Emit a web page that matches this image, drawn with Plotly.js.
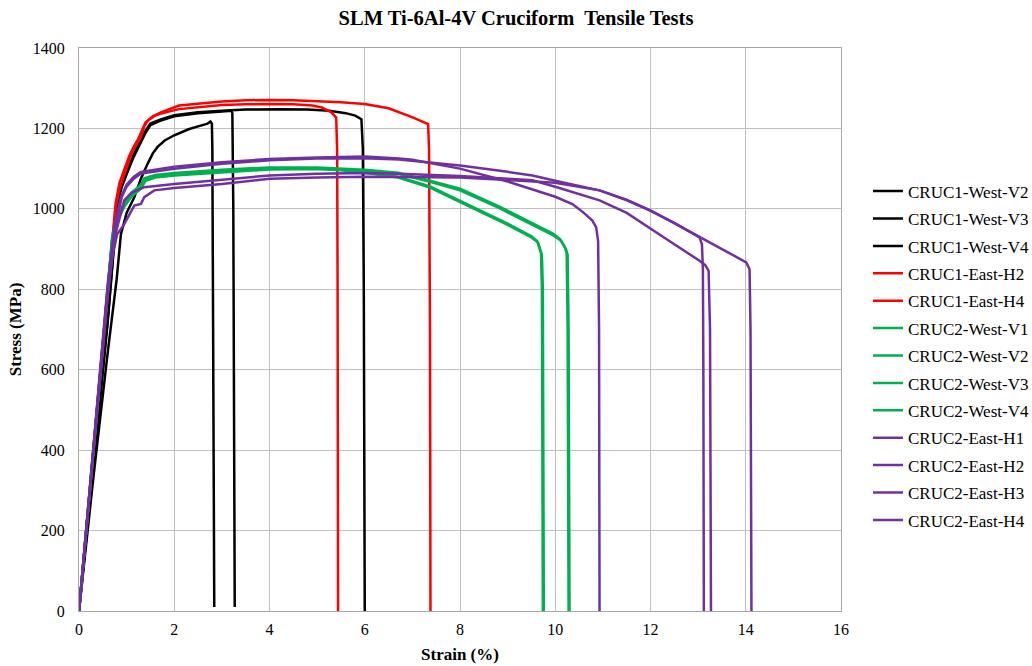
<!DOCTYPE html>
<html>
<head>
<meta charset="utf-8">
<script src="https://cdn.plot.ly/plotly-3.0.1.min.js"></script>
<style>html,body{margin:0;padding:0;background:#fff;}#chart{width:1032px;height:666px;}</style>
</head>
<body>
<div id="chart"></div>
<script>
// Series names and colours
const seriesNames = ["CRUC1-West-V2","CRUC1-West-V3","CRUC1-West-V4","CRUC1-East-H2","CRUC1-East-H4",
  "CRUC2-West-V1","CRUC2-West-V2","CRUC2-West-V3","CRUC2-West-V4",
  "CRUC2-East-H1","CRUC2-East-H2","CRUC2-East-H3","CRUC2-East-H4"];
const seriesColors = ["#000000","#000000","#000000","#FF0000","#FF0000",
  "#00B050","#00B050","#00B050","#00B050",
  "#7030A0","#7030A0","#7030A0","#7030A0"];

// Strain (%) and stress (MPa)
const c1wV2_strain = [0,0.3,0.6,0.79,0.88,1.0,1.16,1.3,1.44,1.55,1.65,1.8,2.0,2.3,2.5,2.7,2.76,2.79,2.80,2.84];
const c1wV2_stress = [0,330,640,824,937,990,1029,1075,1112,1138,1154,1170,1183,1198,1205,1212,1217,1212,1150,10];

const c1wV3_strain = [0,0.3,0.6,0.81,0.9,1.02,1.15,1.3,1.4,1.5,1.7,2.0,2.5,3.0,3.2,3.22,3.24,3.27];
const c1wV3_stress = [0,355,715,1015,1055,1092,1130,1166,1190,1208,1219,1230,1238,1242,1244,1238,1000,10];

const c1wV4_strain = [0,0.3,0.6,0.81,0.9,1.02,1.15,1.3,1.4,1.5,1.7,2.0,2.5,3.0,3.5,4.2,4.8,5.26,5.6,5.8,5.93,5.96,5.98,6.0];
const c1wV4_stress = [0,360,720,1021,1060,1096,1135,1171,1195,1212,1222,1233,1240,1244,1247,1248,1247,1244,1238,1232,1223,1150,800,0];

const c1eH2_strain = [0,0.3,0.6,0.77,0.85,0.95,1.05,1.12,1.2,1.3,1.37,1.45,1.6,1.72,2.1,2.5,3.0,3.5,4.0,4.5,4.9,5.1,5.3,5.4,5.42,5.43,5.44];
const c1eH2_stress = [0,390,790,1004,1050,1087,1120,1142,1160,1179,1205,1220,1232,1237,1248,1253,1258,1260,1261,1260,1257,1252,1240,1227,1150,800,0];

const c1eH4_strain = [0,0.3,0.6,0.77,0.85,0.95,1.05,1.15,1.25,1.32,1.4,1.55,1.72,2.1,2.5,3.0,3.5,4.0,4.5,5.0,5.5,6.0,6.5,7.02,7.2,7.33,7.35,7.37,7.38];
const c1eH4_stress = [0,395,800,1015,1065,1100,1130,1155,1175,1195,1215,1230,1240,1257,1262,1267,1270,1271,1270,1268,1265,1261,1250,1227,1218,1211,1150,700,0];

const c2wV1_strain = [0,0.3,0.6,0.7,0.8,0.95,1.1,1.3,1.37,1.6,2,3,4,5,5.5,6,6.7,7.37,8,8.5,9,9.5,9.62,9.7,9.72,9.74];
const c2wV1_stress = [0,400,800,930,975,1010,1035,1055,1072,1080,1085,1093,1100,1100,1097,1092,1080,1056,1020,993,963,932,920,890,800,0];

const c2wV2_strain = [0,0.3,0.6,0.7,0.8,0.95,1.1,1.3,1.4,1.6,2,3,4,5,5.5,6,6.7,7.37,8,8.5,9,9.5,9.64,9.72,9.74,9.76];
const c2wV2_stress = [0,395,795,925,970,1005,1030,1050,1070,1078,1083,1091,1098,1099,1096,1090,1078,1053,1017,990,960,929,916,886,800,0];

const c2wV3_strain = [0,0.3,0.6,0.7,0.8,0.95,1.1,1.3,1.37,1.6,2,3,4,5,6,6.7,7.37,8,8.84,9.5,9.96,10.1,10.2,10.24,10.26,10.28];
const c2wV3_stress = [0,400,805,935,980,1015,1040,1060,1076,1084,1089,1097,1103,1103,1097,1090,1070,1050,1005,965,938,925,905,890,700,0];

const c2wV4_strain = [0,0.3,0.6,0.7,0.8,0.95,1.1,1.3,1.4,1.6,2,3,4,5,6,6.7,7.37,8,8.84,9.5,9.96,10.12,10.22,10.26,10.28,10.30];
const c2wV4_stress = [0,398,798,928,975,1010,1036,1057,1074,1082,1087,1095,1101,1101,1095,1087,1067,1046,1001,961,934,921,901,886,700,0];

const c2eH1_strain = [0,0.3,0.6,0.75,0.88,1.0,1.15,1.3,2,3,4,5,6,6.72,7,8,9,10,10.36,10.6,10.78,10.86,10.9,10.92,10.93];
const c2eH1_stress = [0,410,810,960,1029,1060,1080,1092,1105,1116,1124,1128,1130,1125,1122,1100,1068,1030,1012,990,971,954,920,700,0];

const c2eH2_strain = [0,0.3,0.6,0.75,0.9,1.0,1.15,1.3,2,3,4,5,6,6.72,8,9,9.52,10,10.93,11.5,11.98,12.5,13.03,13.08,13.1,13.11,13.12];
const c2eH2_stress = [0,405,800,950,1030,1055,1075,1088,1100,1112,1121,1125,1126,1123,1108,1092,1083,1070,1046,1022,996,965,929,912,850,600,0];

const c2eH3_strain = [0,0.3,0.6,0.75,0.95,1.1,1.37,2,3,4,5,6,6.72,8,9,9.52,10,10.93,11.5,12,12.5,13.03,13.15,13.22,13.25,13.27];
const c2eH3_stress = [0,400,790,930,1021,1040,1054,1062,1072,1083,1087,1089,1087,1082,1075,1071,1055,1021,990,950,912,871,860,846,700,0];

const c2eH4_strain = [0,0.3,0.6,0.7,0.8,0.95,1.16,1.3,1.37,1.58,2,3,4,5,6,6.72,8,9,10,10.93,11.5,12,12.5,13,13.5,14.01,14.08,14.1,14.12];
const c2eH4_stress = [0,395,780,880,937,962,1008,1012,1029,1046,1052,1062,1075,1078,1080,1079,1078,1072,1065,1046,1022,996,965,932,900,867,850,700,0];

const strainSeries = [c1wV2_strain,c1wV3_strain,c1wV4_strain,c1eH2_strain,c1eH4_strain,
  c2wV1_strain,c2wV2_strain,c2wV3_strain,c2wV4_strain,c2eH1_strain,c2eH2_strain,c2eH3_strain,c2eH4_strain];
const stressSeries = [c1wV2_stress,c1wV3_stress,c1wV4_stress,c1eH2_stress,c1eH4_stress,
  c2wV1_stress,c2wV2_stress,c2wV3_stress,c2wV4_stress,c2eH1_stress,c2eH2_stress,c2eH3_stress,c2eH4_stress];

const xTicks = [0,2,4,6,8,10,12,14,16];
const yTicks = [0,200,400,600,800,1000,1200,1400];

const FONT = "'Liberation Serif','Times New Roman',serif";

const traces = seriesNames.map((n,i)=>({
  type:'scatter', mode:'lines', name:n,
  x: strainSeries[i], y: stressSeries[i],
  legendgroup: 'g'+i,
  line:{color:seriesColors[i], width:2.5}
}));

const layout = {
  width:1032, height:666,
  paper_bgcolor:'#ffffff', plot_bgcolor:'#ffffff',
  margin:{l:79, r:191, t:48, b:55, autoexpand:false},
  font:{family:FONT, size:16, color:'#000'},
  title:{text:'<b>SLM Ti-6Al-4V Cruciform  Tensile Tests</b>', font:{family:FONT, size:20.5, color:'#000'},
    xref:'container', x:0.5, xanchor:'center', yref:'container', y:0.973, yanchor:'middle'},
  xaxis:{range:[0,16], tickvals:xTicks, ticktext:xTicks.map(String), showgrid:true, gridcolor:'#BFBFBF', gridwidth:1,
    showline:true, linecolor:'#A6A6A6', linewidth:1, mirror:true, zeroline:false, ticks:'',
    ticklabelstandoff:4,
    tickfont:{family:FONT, size:16, color:'#000'},
    title:{text:'<b>Strain (%)</b>', font:{family:FONT, size:17, color:'#000'}, standoff:10}},
  yaxis:{range:[0,1400], tickvals:yTicks, ticktext:yTicks.map(String), showgrid:true, gridcolor:'#BFBFBF', gridwidth:1,
    showline:true, linecolor:'#A6A6A6', linewidth:1, mirror:true, zeroline:false, ticks:'',
    ticklabelstandoff:10,
    tickfont:{family:FONT, size:16, color:'#000'},
    title:{text:'<b>Stress (MPa)</b>', font:{family:FONT, size:17, color:'#000'}, standoff:6}},
  legend:{x:1.0354, xanchor:'left', y:0.777, yanchor:'top', traceorder:'grouped', tracegroupgap:2.3,
    font:{family:FONT, size:17, color:'#000'}, bgcolor:'rgba(0,0,0,0)'},
  showlegend:true
};

Plotly.newPlot('chart', traces, layout, {displayModeBar:false, staticPlot:true});
</script>
</body>
</html>
